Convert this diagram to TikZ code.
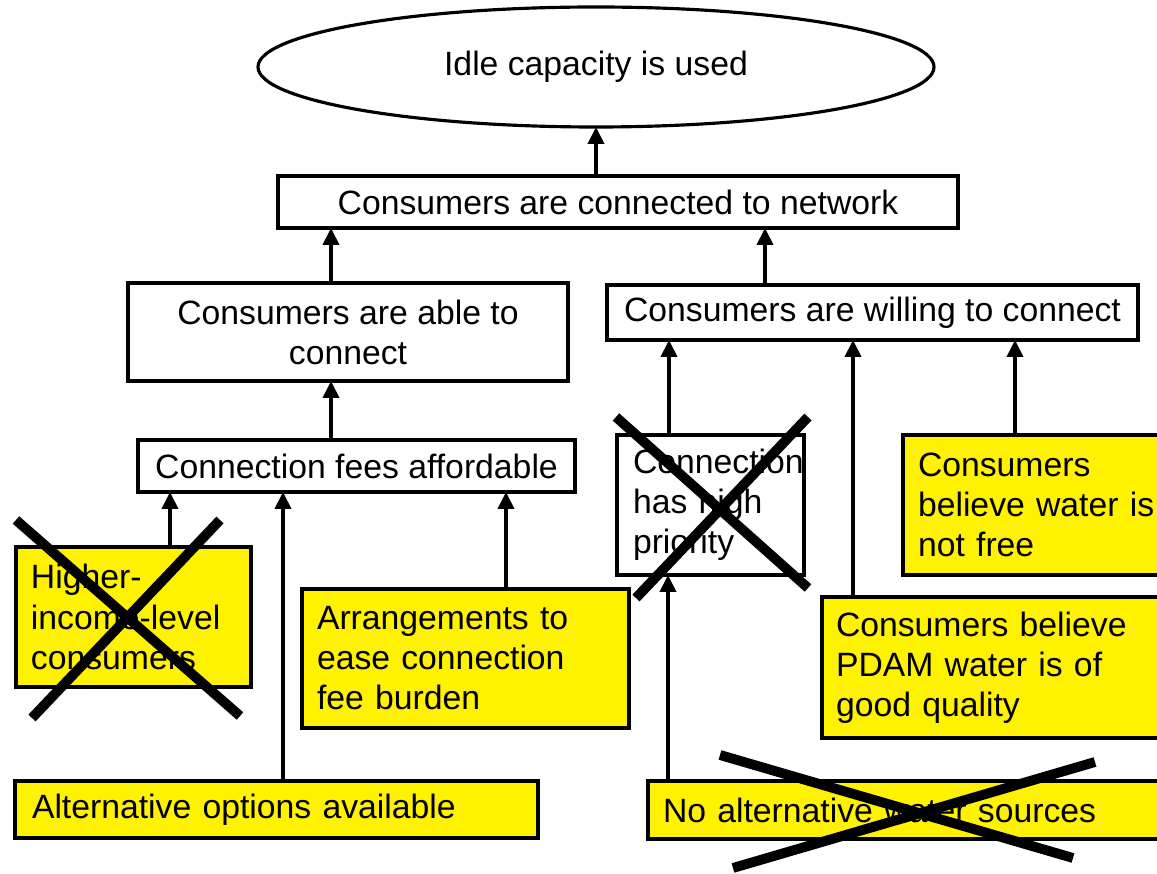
\documentclass[tikz,border=0pt]{standalone}
\usepackage{fontspec}
\setmainfont{Liberation Sans}
\usetikzlibrary{arrows.meta,shapes.geometric}
\begin{document}
\begin{tikzpicture}[x=0.02cm,y=-0.02cm,
  every node/.style={font=\fontsize{19.2pt}{22.8pt}\selectfont, inner sep=0pt, outer sep=0pt},
  wbox/.style={draw, line width=2.2pt, fill=white, rectangle, anchor=north west},
  ybox/.style={wbox, fill=yellow},
  arr/.style={line width=2.2pt, -{Triangle[width=0.32cm,length=0.34cm]}},
  crossline/.style={line width=5.6pt}]
\useasboundingbox (0,0) rectangle (1157,874);
\clip (0,0) rectangle (1157,874);
\fill[white] (0,0) rectangle (1157,874);

% nodes
\node[draw, ellipse, line width=1.8pt, minimum width=676*0.02cm, minimum height=120*0.02cm] (top) at (596,67) {Idle capacity is used};
\node[wbox, minimum width=680*0.02cm, minimum height=52*0.02cm] (conn) at (278,176) {Consumers are connected to network};
\node[wbox, minimum width=440*0.02cm, minimum height=98*0.02cm, align=center] (able) at (128,283) {Consumers are able to\\connect};
\node[wbox, minimum width=531*0.02cm, minimum height=55*0.02cm] (will) at (607,285) {Consumers are willing to connect};
\node[wbox, minimum width=437*0.02cm, minimum height=52*0.02cm] (fees) at (138,440) {Connection fees affordable};
\node[wbox, minimum width=187*0.02cm, minimum height=140*0.02cm, align=left, text width=155*0.02cm] (prio) at (617,435) {\mbox{Connection}\\has high\\priority};
\node[ybox, minimum width=272*0.02cm, minimum height=140*0.02cm, align=left, text width=242*0.02cm] (free) at (903,435) {Consumers\\believe water is\\not free};
\node[ybox, minimum width=235*0.02cm, minimum height=140*0.02cm, align=left, text width=205*0.02cm] (hi) at (16,547) {Higher-\\\mbox{income-level}\\consumers};
\node[ybox, minimum width=327*0.02cm, minimum height=139*0.02cm, align=left, text width=297*0.02cm] (ease) at (302,589) {Arrangements to\\ease connection\\fee burden};
\node[ybox, minimum width=353*0.02cm, minimum height=141*0.02cm, align=left, text width=325*0.02cm] (qual) at (822,597) {Consumers believe\\PDAM water is of\\good quality};
\node[ybox, minimum width=523*0.02cm, minimum height=57*0.02cm, align=left, text width=489*0.02cm] (alt) at (15,781) {Alternative options available};
\node[ybox, minimum width=527*0.02cm, minimum height=58*0.02cm, align=left, text width=497*0.02cm] (noalt) at (648,781) {No alternative water sources};

% connectors
\draw[arr] (top.south |- conn.north) -- (top.south);
\draw[arr] (331,0 |- able.north) -- (331,0 |- conn.south);
\draw[arr] (765,0 |- will.north) -- (765,0 |- conn.south);
\draw[arr] (331,0 |- fees.north) -- (331,0 |- able.south);
\draw[arr] (669,0 |- prio.north) -- (669,0 |- will.south);
\draw[arr] (853,0 |- qual.north) -- (853,0 |- will.south);
\draw[arr] (1015,0 |- free.north) -- (1015,0 |- will.south);
\draw[arr] (170,0 |- hi.north) -- (170,0 |- fees.south);
\draw[arr] (283,0 |- alt.north) -- (283,0 |- fees.south);
\draw[arr] (506,0 |- ease.north) -- (506,0 |- fees.south);
\draw[arr] (668,0 |- noalt.north) -- (668,0 |- prio.south);

% crosses
\draw[crossline] (16,520) -- (240,716);
\draw[crossline] (220,520) -- (32,718);
\draw[crossline] (616,417) -- (808,588);
\draw[crossline] (808,417) -- (636,598);
\draw[crossline] (720,755) -- (1073,858);
\draw[crossline] (1095,762) -- (733,868);
\end{tikzpicture}
\end{document}
